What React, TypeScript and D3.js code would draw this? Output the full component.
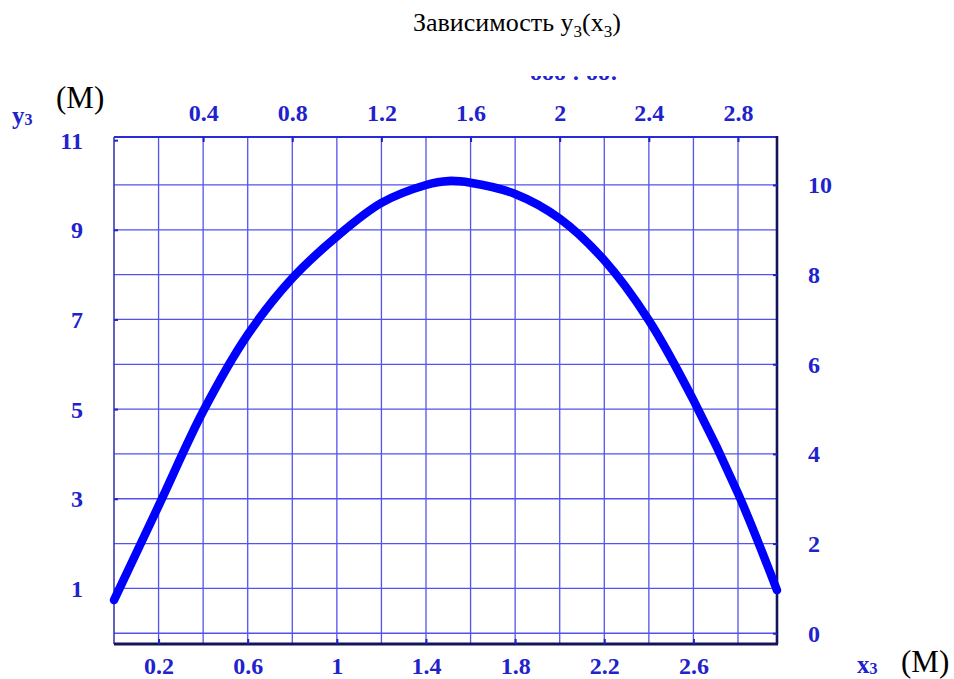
import React, { useEffect, useRef } from 'react';
import * as d3 from 'd3';

// y3(x3) readings
const xValues = [0, 0.2, 0.4, 0.6, 0.8, 1.0, 1.2, 1.4, 1.5, 1.6, 1.8, 2.0, 2.2, 2.4, 2.6, 2.8, 2.975];
const yValues = [0.74, 2.84, 4.95, 6.66, 7.92, 8.85, 9.6, 10.0, 10.09, 10.05, 9.8, 9.25, 8.32, 6.98, 5.2, 3.12, 0.96];

const topTicks = [0.4, 0.8, 1.2, 1.6, 2, 2.4, 2.8];
const bottomTicks = [0.2, 0.6, 1, 1.4, 1.8, 2.2, 2.6];
const leftTicks = [1, 3, 5, 7, 9, 11];
const rightTicks = [0, 2, 4, 6, 8, 10];
const xGrid = [0.2, 0.4, 0.6, 0.8, 1, 1.2, 1.4, 1.6, 1.8, 2, 2.2, 2.4, 2.6, 2.8];
const yGrid = [0, 1, 2, 3, 4, 5, 6, 7, 8, 9, 10];

const App = () => {
    const svgRef = useRef(null);

    useEffect(() => {
        const width = 954;
        const height = 679;
        const plot = { left: 114, right: 777, top: 137, bottom: 644 };
        const tickColor = '#2222cc';
        const gridColor = '#5252ee';
        const frameDark = '#14145a';
        const labelFont = '"Liberation Serif", "Times New Roman", serif';

        const svg = d3.select(svgRef.current);
        svg.selectAll('*').remove();
        svg.attr('width', width).attr('height', height);

        const x = d3.scaleLinear().domain([0, 2.975]).range([plot.left, plot.right]);
        const y = d3.scaleLinear().domain([-0.24, 11.07]).range([plot.bottom, plot.top]);

        // title
        const title = svg.append('text')
            .attr('x', 413)
            .attr('y', 31)
            .style('font-family', labelFont)
            .style('font-size', '26px')
            .attr('fill', '#000');
        title.append('tspan').text('Зависимость y');
        title.append('tspan').attr('dy', 6).style('font-size', '17px').text('3');
        title.append('tspan').attr('dy', -6).text('(x');
        title.append('tspan').attr('dy', 6).style('font-size', '17px').text('3');
        title.append('tspan').attr('dy', -6).text(')');

        // cut-off heading remnant above the plot
        svg.append('clipPath').attr('id', 'cut')
            .append('rect').attr('x', 0).attr('y', 76).attr('width', width).attr('height', 6);
        svg.append('text')
            .attr('clip-path', 'url(#cut)')
            .attr('x', 530)
            .attr('y', 80)
            .style('font-family', labelFont)
            .style('font-weight', 'bold')
            .style('font-size', '24px')
            .attr('fill', tickColor)
            .text('ooo : oo:');

        // grid
        const grid = svg.append('g').attr('stroke', gridColor).attr('stroke-width', 1.3);
        xGrid.forEach(v => {
            grid.append('line')
                .attr('x1', x(v)).attr('x2', x(v))
                .attr('y1', plot.top).attr('y2', plot.bottom);
        });
        yGrid.forEach(v => {
            grid.append('line')
                .attr('x1', plot.left).attr('x2', plot.right)
                .attr('y1', y(v)).attr('y2', y(v));
        });

        // frame
        svg.append('line')
            .attr('x1', plot.left).attr('x2', plot.right)
            .attr('y1', plot.top).attr('y2', plot.top)
            .attr('stroke', '#2a2ad8').attr('stroke-width', 2.2);
        svg.append('line')
            .attr('x1', plot.left).attr('x2', plot.left)
            .attr('y1', plot.top).attr('y2', plot.bottom)
            .attr('stroke', '#3a3ab8').attr('stroke-width', 1.6);
        svg.append('line')
            .attr('x1', plot.right).attr('x2', plot.right)
            .attr('y1', plot.top - 1).attr('y2', plot.bottom)
            .attr('stroke', frameDark).attr('stroke-width', 2.6);
        svg.append('line')
            .attr('x1', plot.left).attr('x2', plot.right + 1)
            .attr('y1', plot.bottom).attr('y2', plot.bottom)
            .attr('stroke', frameDark).attr('stroke-width', 3);

        // axes
        const styleAxis = (g, anchor, tx, ty, dy) => {
            g.select('.domain').remove();
            g.selectAll('.tick line').attr('stroke', tickColor).attr('stroke-width', 2);
            g.selectAll('.tick text')
                .attr('fill', tickColor)
                .attr('text-anchor', anchor)
                .attr('x', tx)
                .attr('y', ty)
                .attr('dy', dy)
                .style('font-family', labelFont)
                .style('font-weight', 'bold')
                .style('font-size', '24px');
        };

        svg.append('g')
            .attr('transform', `translate(0, ${plot.top})`)
            .call(d3.axisBottom(x).tickValues(topTicks).tickSize(5).tickFormat(d3.format('')))
            .call(g => styleAxis(g, 'middle', 0, -16, 0));

        svg.append('g')
            .attr('transform', `translate(0, ${plot.bottom})`)
            .call(d3.axisTop(x).tickValues(bottomTicks).tickSize(5).tickFormat(d3.format('')))
            .call(g => styleAxis(g, 'middle', 0, 30, 0));

        svg.append('g')
            .attr('transform', `translate(${plot.left}, 0)`)
            .call(d3.axisRight(y).tickValues(leftTicks).tickSize(4).tickFormat(d3.format('')))
            .call(g => styleAxis(g, 'end', -31, 0, '0.33em'));

        svg.append('g')
            .attr('transform', `translate(${plot.right}, 0)`)
            .call(d3.axisLeft(y).tickValues(rightTicks).tickSize(4).tickFormat(d3.format('')))
            .call(g => styleAxis(g, 'start', 31, 0, '0.33em'));

        // curve
        const points = xValues.map((v, i) => [v, yValues[i]]);
        const line = d3.line()
            .x(d => x(d[0]))
            .y(d => y(d[1]))
            .curve(d3.curveCatmullRom.alpha(0.5));
        svg.append('path')
            .attr('d', line(points))
            .attr('fill', 'none')
            .attr('stroke', '#0000ff')
            .attr('stroke-width', 8.5)
            .attr('stroke-linecap', 'round');

        // axis names
        const yName = svg.append('text')
            .attr('x', 12).attr('y', 124)
            .style('font-family', labelFont)
            .style('font-weight', 'bold')
            .style('font-size', '25px')
            .attr('fill', tickColor);
        yName.append('tspan').text('y');
        yName.append('tspan').attr('dy', 1).style('font-size', '16px').text('3');

        const xName = svg.append('text')
            .attr('x', 857).attr('y', 673)
            .style('font-family', labelFont)
            .style('font-weight', 'bold')
            .style('font-size', '25px')
            .attr('fill', tickColor);
        xName.append('tspan').text('x');
        xName.append('tspan').attr('dy', 1).style('font-size', '16px').text('3');

        svg.append('text')
            .attr('x', 56).attr('y', 108)
            .style('font-family', labelFont)
            .style('font-size', '31px')
            .attr('fill', '#000')
            .text('(M)');

        svg.append('text')
            .attr('x', 901).attr('y', 672)
            .style('font-family', labelFont)
            .style('font-size', '31px')
            .attr('fill', '#000')
            .text('(M)');
    }, []);

    return (
        <div style={{ position: 'absolute', left: 0, top: 0, width: 954, height: 679, background: '#fff' }}>
            <svg ref={svgRef} style={{ display: 'block' }}></svg>
        </div>
    );
};

export default App;
